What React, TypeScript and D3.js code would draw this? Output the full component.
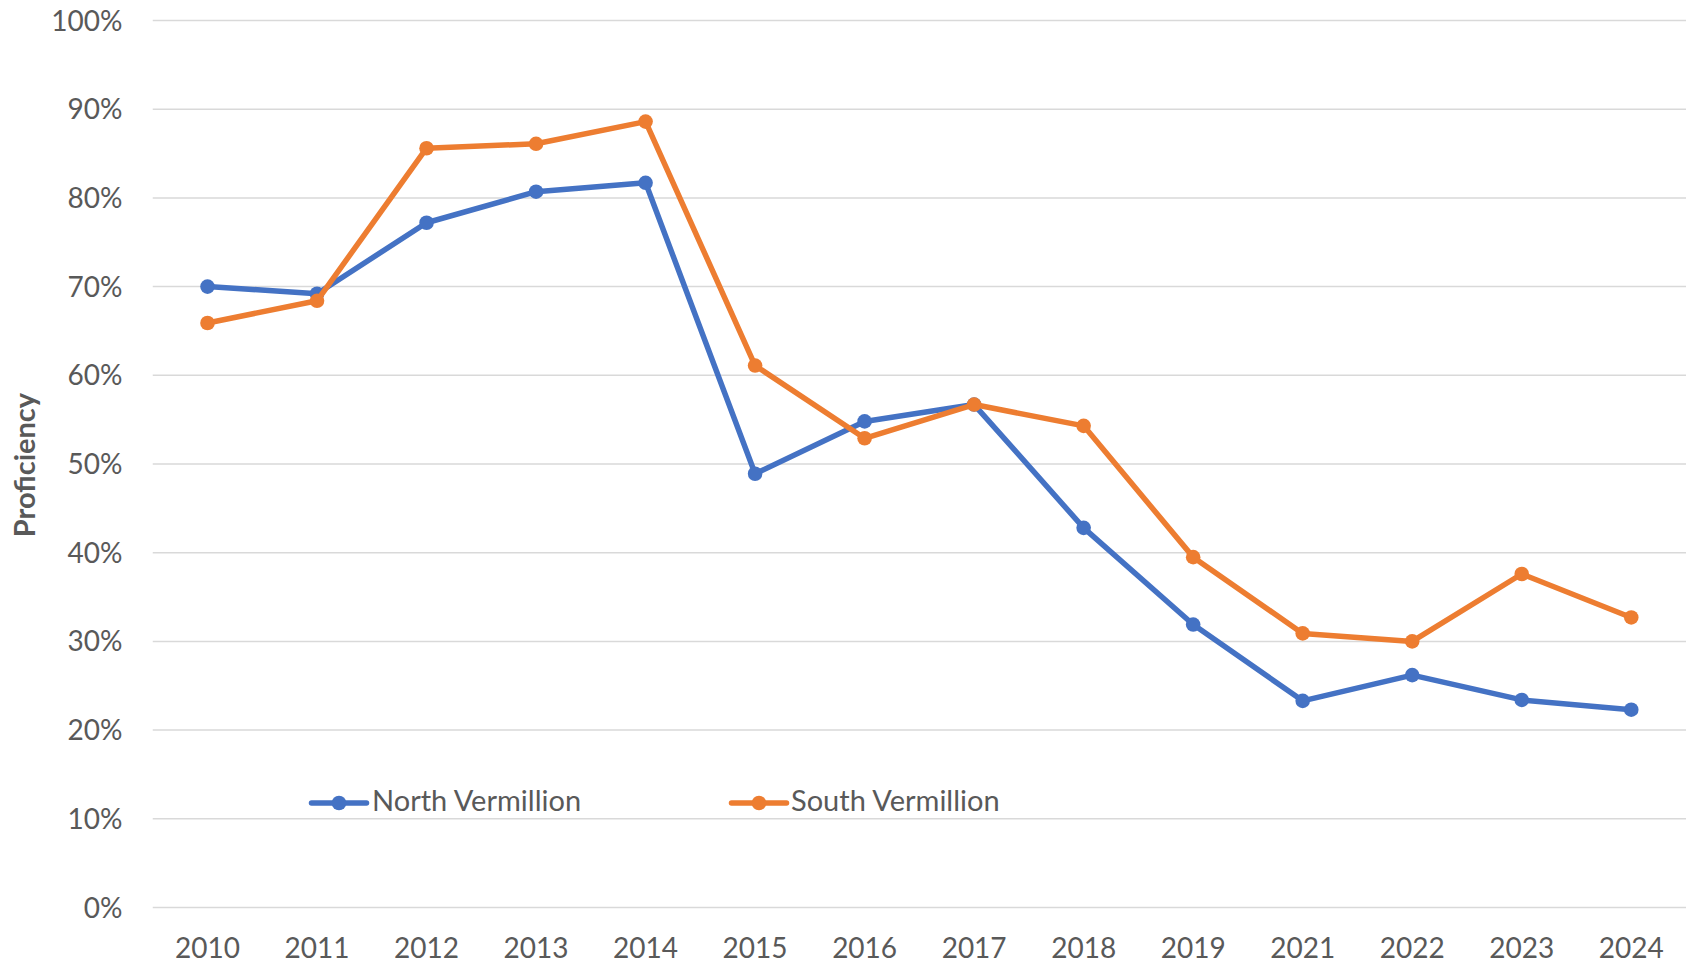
import * as d3 from 'd3';

const years = ['2010', '2011', '2012', '2013', '2014', '2015', '2016', '2017', '2018', '2019', '2021', '2022', '2023', '2024'];
const northVermillion = [0.70, 0.692, 0.772, 0.807, 0.817, 0.489, 0.548, 0.567, 0.428, 0.319, 0.233, 0.262, 0.234, 0.223];
const southVermillion = [0.659, 0.684, 0.856, 0.861, 0.886, 0.611, 0.529, 0.567, 0.543, 0.395, 0.309, 0.30, 0.376, 0.327];
const yTicks = [0, 0.1, 0.2, 0.3, 0.4, 0.5, 0.6, 0.7, 0.8, 0.9, 1];

const series = [
  { name: 'North Vermillion', values: northVermillion, color: '#4472C4' },
  { name: 'South Vermillion', values: southVermillion, color: '#ED7D31' },
];

const W = 1686;
const H = 964;
const FONT = 'Lato, "Open Sans", sans-serif';
const TEXT = '#595959';

export default function App(): React.JSX.Element {
  const x = d3.scaleBand<string>().domain(years).range([152.75, 1686]);
  const y = d3.scaleLinear().domain([0, 1]).range([907.5, 20.5]);
  const cx = (yr: string) => (x(yr) ?? 0) + x.bandwidth() / 2;

  const line = d3.line<number>()
    .x((_, i) => cx(years[i]))
    .y(d => y(d));

  const fmt = d3.format('.0%');

  // legend positions
  const legend = [
    { x0: 311.5, text: 372 },
    { x0: 731.5, text: 791 },
  ];
  const legendY = 803;

  return (
    <>
      <style>{'body{margin:0}'}</style>
      <svg width={W} height={H} style={{ display: 'block', background: '#fff' }}>
        {/* gridlines */}
        {yTicks.map(t => (
          <line key={t} x1={152.75} x2={W} y1={y(t)} y2={y(t)} stroke="#D9D9D9" strokeWidth={1.5} />
        ))}

        {/* y axis labels */}
        {yTicks.map(t => (
          <text key={'l' + t} x={122.5} y={y(t)} dy="0.36em" textAnchor="end"
            fontFamily={FONT} fontSize={28} fill={TEXT}>{fmt(t)}</text>
        ))}

        {/* x axis labels */}
        {years.map(yr => (
          <text key={yr} x={cx(yr)} y={958} textAnchor="middle"
            fontFamily={FONT} fontSize={28} fill={TEXT}>{yr}</text>
        ))}

        {/* y title */}
        <text transform="translate(35,465) rotate(-90)" textAnchor="middle"
          fontFamily={FONT} fontSize={29} fontWeight="bold" fill={TEXT}>Proficiency</text>

        {/* series */}
        {series.map(s => (
          <g key={s.name}>
            <path d={line(s.values) ?? ''} fill="none" stroke={s.color} strokeWidth={5.5} strokeLinejoin="round" strokeLinecap="round" />
            {s.values.map((v, i) => (
              <circle key={i} cx={cx(years[i])} cy={y(v)} r={7.3} fill={s.color} />
            ))}
          </g>
        ))}

        {/* legend */}
        {series.map((s, i) => (
          <g key={'lg' + s.name}>
            <line x1={legend[i].x0} x2={legend[i].x0 + 55} y1={legendY} y2={legendY}
              stroke={s.color} strokeWidth={5.5} strokeLinecap="round" />
            <circle cx={legend[i].x0 + 27.5} cy={legendY} r={7.3} fill={s.color} />
            <text x={legend[i].text} y={811} fontFamily={FONT} fontSize={29} fill={TEXT}>{s.name}</text>
          </g>
        ))}
      </svg>
    </>
  );
}
